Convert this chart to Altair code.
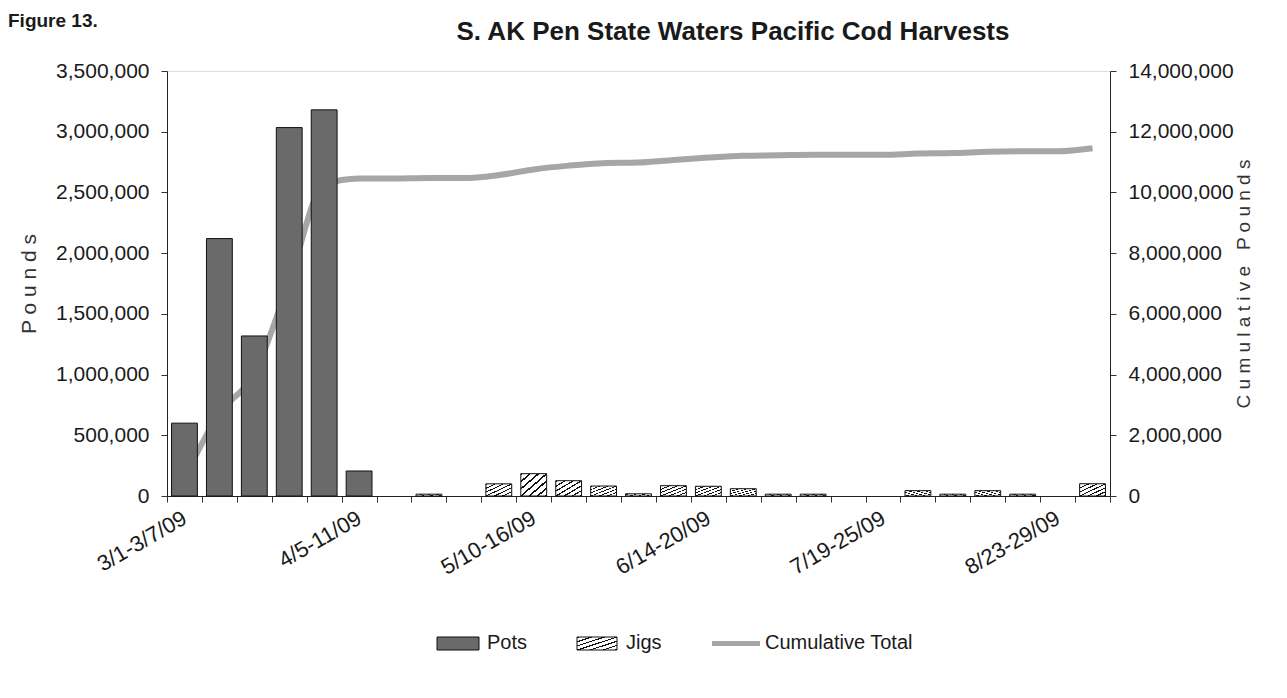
import altair as alt
import pandas as pd

weeks = [
    "3/1-3/7/09", "3/8-14/09", "3/15-21/09", "3/22-28/09", "3/29-4/4/09",
    "4/5-11/09", "4/12-18/09", "4/19-25/09", "4/26-5/2/09", "5/3-9/09",
    "5/10-16/09", "5/17-23/09", "5/24-30/09", "5/31-6/6/09", "6/7-13/09",
    "6/14-20/09", "6/21-27/09", "6/28-7/4/09", "7/5-11/09", "7/12-18/09",
    "7/19-25/09", "7/26-8/1/09", "8/2-8/09", "8/9-15/09", "8/16-22/09",
    "8/23-29/09", "8/30-9/5/09",
]
pots = [600000, 2120000, 1318000, 3034000, 3180000, 206000, 0, 0, 0, 0,
        0, 0, 0, 0, 0, 0, 0, 0, 0, 0, 0, 0, 0, 0, 0, 0, 0]
jigs = [0, 0, 0, 0, 0, 0, 0, 15000, 0, 100000,
        184000, 126000, 82000, 18000, 85000, 80000, 60000, 15000, 15000, 0,
        0, 44000, 15000, 44000, 15000, 0, 101000]
cumulative = [600000, 2720000, 4038000, 7072000, 10252000, 10458000, 10458000,
              10473000, 10473000, 10573000, 10757000, 10883000, 10965000,
              10983000, 11068000, 11148000, 11208000, 11223000, 11238000,
              11238000, 11238000, 11282000, 11297000, 11341000, 11356000,
              11356000, 11457000]
shown_labels = [weeks[i] for i in range(0, len(weeks), 5)]
series = ["Pots", "Jigs", "Cumulative Total"]
title_text = "S. AK Pen State Waters Pacific Cod Harvests"
figure_text = "Figure 13."
left_title = "P o u n d s"
right_title = "C u m u l a t i v e \u00a0 P o u n d s"

df = pd.DataFrame({"week": weeks, "pots": pots, "jigs": jigs, "cumulative": cumulative})
leg_df = pd.DataFrame({"series": series})

FONT = "Liberation Sans, Arial, sans-serif"
POT_GRAY = "#6a6a6a"
LINE_GRAY = "#a6a6a6"
INK = "#1a1a1a"

# diagonal hatch gradient for the Jigs bars
stops = []
period = 0.16
k = 0
while k * period < 1.0:
    a = k * period
    stops += [
        {"offset": round(a, 4), "color": "#111111"},
        {"offset": round(min(a + 0.045, 1), 4), "color": "#111111"},
        {"offset": round(min(a + 0.045, 1), 4), "color": "#ffffff"},
        {"offset": round(min(a + period, 1), 4), "color": "#ffffff"},
    ]
    k += 1
hatch = {"gradient": "linear", "x1": 0, "y1": 0, "x2": 1, "y2": 1, "stops": stops}

label_list = "[" + ",".join("'" + s + "'" for s in shown_labels) + "]"

x_axis = alt.Axis(
    labelExpr="indexof(" + label_list + ", datum.value) >= 0 ? datum.value : ''",
    labelAngle=330, labelAlign="right", labelBaseline="middle",
    labelFont=FONT, labelFontSize=22, labelColor=INK, labelPadding=14,
    tickBand="extent", tickSize=6, tickColor="#333", domainColor="#222",
    labelOverlap=False, labelFlush=False,
)
x_scale = alt.Scale(domain=weeks, paddingInner=0, paddingOuter=0)
BAR_W = alt.RelativeBandSize(0.74)

left_scale = alt.Scale(domain=[0, 3500000], nice=False)
left_axis = alt.Axis(
    orient="left", values=list(range(0, 3500001, 500000)), format=",d",
    labelFont=FONT, labelFontSize=21, labelColor=INK, labelPadding=12,
    tickSize=6, tickColor="#333", domainColor="#222", grid=False,
    title=left_title, titleFont=FONT,
    titleFontSize=21, titleFontWeight="normal", titleColor="#333", titlePadding=16,
)

pots_layer = alt.Chart(df).transform_filter("datum.pots > 0").mark_bar(
    fill=POT_GRAY, stroke="#111111", strokeWidth=1, width=BAR_W
).encode(
    x=alt.X("week:N", sort=weeks, title=None, scale=x_scale, axis=x_axis),
    y=alt.Y("pots:Q", scale=left_scale, axis=left_axis),
)

jigs_layer = alt.Chart(df).transform_filter("datum.jigs > 0").mark_bar(
    fill=hatch, stroke="#111111", strokeWidth=1, width=BAR_W
).encode(
    x=alt.X("week:N", sort=weeks, title=None, scale=x_scale, axis=x_axis),
    y=alt.Y("jigs:Q", scale=left_scale, axis=left_axis),
)

bars = alt.layer(pots_layer, jigs_layer)

line_layer = alt.Chart(df).mark_line(
    color=LINE_GRAY, strokeWidth=6, interpolate="monotone"
).encode(
    x=alt.X("week:N", sort=weeks, title=None, scale=x_scale, axis=None),
    y=alt.Y(
        "cumulative:Q",
        scale=alt.Scale(domain=[0, 14000000], nice=False),
        axis=alt.Axis(
            orient="right", values=list(range(0, 14000001, 2000000)), format=",d",
            labelFont=FONT, labelFontSize=21, labelColor=INK, labelPadding=12,
            tickSize=6, tickColor="#333", domainColor="#222", grid=False,
            title=right_title,
            titleFont=FONT,
            titleFontSize=19, titleFontWeight="normal", titleColor="#333",
            titleAngle=270, titlePadding=20,
        ),
    ),
)

# legend built from the series list on its own point scale
leg_x = alt.X("series:N", sort=series, axis=None,
              scale=alt.Scale(type="point", domain=series, range=[291, 569], padding=0))
leg_base = alt.Chart(leg_df)
leg_pots = leg_base.transform_filter("datum.series === 'Pots'").mark_bar(
    width=42, fill=POT_GRAY, stroke="#111111", strokeWidth=1
).encode(x=leg_x, y=alt.value(566), y2=alt.value(579))
leg_jigs = leg_base.transform_filter("datum.series === 'Jigs'").mark_bar(
    width=40, fill=hatch, stroke="#111111", strokeWidth=1
).encode(x=leg_x, y=alt.value(566), y2=alt.value(579))
leg_line = leg_base.transform_filter("datum.series === 'Cumulative Total'").mark_bar(
    width=48, fill=LINE_GRAY, strokeWidth=0
).encode(x=leg_x, y=alt.value(570), y2=alt.value(575))
leg_text = leg_base.mark_text(
    font=FONT, fontSize=20, color=INK, align="left", baseline="middle", dx=29
).encode(x=leg_x, y=alt.value(572), text="series:N")
legend = alt.layer(leg_pots, leg_jigs, leg_line, leg_text)

fig_label = alt.Chart(pd.DataFrame({"t": [figure_text]})).mark_text(
    font=FONT, fontSize=19, fontWeight="bold", align="left", baseline="top",
    color=INK,
).encode(x=alt.value(-159), y=alt.value(-59), text="t:N")

title_mark = alt.Chart(pd.DataFrame({"t": [title_text]})).mark_text(
    font=FONT, fontSize=26, fontWeight="bold", align="center", baseline="middle",
    color=INK,
).encode(x=alt.value(566), y=alt.value(-39), text="t:N")

chart = alt.layer(line_layer, bars, legend, fig_label, title_mark).resolve_scale(
    x="independent", y="independent"
).properties(
    width=943, height=425,
    padding={"left": 0, "top": 4, "right": 5, "bottom": 5},
).configure_view(stroke="#222222", strokeWidth=1).configure(background="white")

chart.save("out.html", embed_options={"renderer": "svg", "actions": False})
